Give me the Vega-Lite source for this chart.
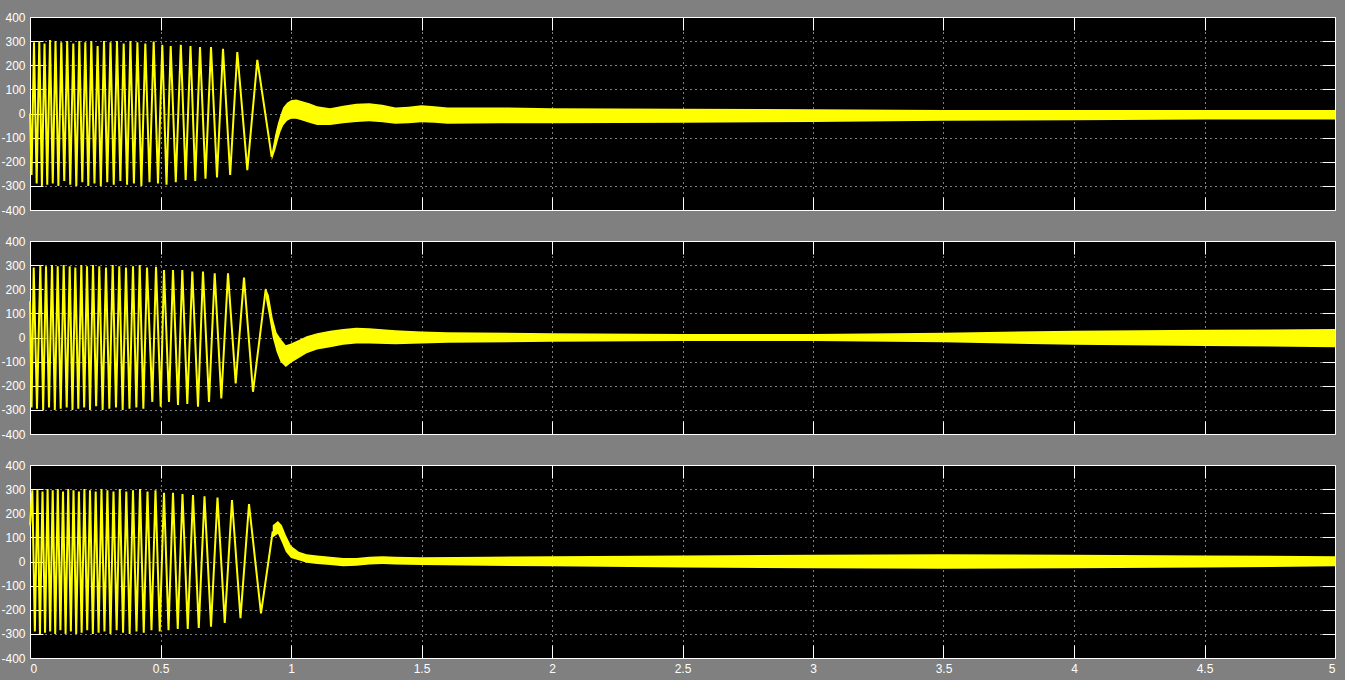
{
  "$schema": "https://vega.github.io/schema/vega-lite/v6.json",
  "autosize": {"type": "pad"},
  "padding": {"left": 0, "top": 10, "right": 9, "bottom": 5},
  "background": "#808080",
  "config": {
    "view": {"fill": "black", "stroke": "white", "strokeWidth": 1},
    "axis": {
      "domain": false,
      "gridColor": "white",
      "gridDash": [1, 4],
      "gridOpacity": 1,
      "gridWidth": 1,
      "tickColor": "white",
      "tickWidth": 1,
      "tickSize": -13,
      "labelColor": "white",
      "labelFont": "Liberation Sans",
      "labelFontSize": 12,
      "labelPadding": 18,
      "labelExpr": "'' + datum.value",
      "title": null
    },
    "line": {"color": "#ffff00", "strokeWidth": 2},
    "area": {"color": "#ffff00", "opacity": 1}
  },
  "spacing": 31,
  "bounds": "flush",
  "datasets": {
    "p1line": [
      {"t":0,"v":0},{"t":0.006,"v":-255},{"t":0.0153,"v":295},{"t":0.0255,"v":-290},{"t":0.0356,"v":300},{"t":0.0456,"v":-300},{"t":0.0556,"v":290},{"t":0.0661,"v":-295},{"t":0.0766,"v":305},{"t":0.0872,"v":-290},{"t":0.0977,"v":300},{"t":0.1088,"v":-300},{"t":0.1199,"v":295},{"t":0.1312,"v":-280},{"t":0.1425,"v":300},{"t":0.1542,"v":-295},{"t":0.1659,"v":290},{"t":0.1774,"v":-300},{"t":0.1889,"v":300},{"t":0.2004,"v":-285},{"t":0.2119,"v":295},{"t":0.2234,"v":-300},{"t":0.2349,"v":300},{"t":0.247,"v":-290},{"t":0.259,"v":280},{"t":0.2713,"v":-300},{"t":0.2835,"v":300},{"t":0.296,"v":-285},{"t":0.3084,"v":295},{"t":0.3209,"v":-295},{"t":0.3333,"v":300},{"t":0.3462,"v":-280},{"t":0.359,"v":290},{"t":0.3719,"v":-295},{"t":0.3847,"v":300},{"t":0.3981,"v":-290},{"t":0.4115,"v":295},{"t":0.4267,"v":-300},{"t":0.4418,"v":290},{"t":0.4579,"v":-285},{"t":0.4739,"v":298},{"t":0.4904,"v":-290},{"t":0.5069,"v":285},{"t":0.523,"v":-295},{"t":0.5391,"v":280},{"t":0.5585,"v":-285},{"t":0.5778,"v":285},{"t":0.5964,"v":-275},{"t":0.6149,"v":280},{"t":0.6331,"v":-280},{"t":0.6513,"v":275},{"t":0.6724,"v":-270},{"t":0.6935,"v":275},{"t":0.7165,"v":-265},{"t":0.7395,"v":268},{"t":0.7669,"v":-255},{"t":0.7943,"v":255},{"t":0.8326,"v":-235},{"t":0.8709,"v":222},{"t":0.926,"v":-180}
    ],
    "p1band": [
      {"t":0.926,"lo":-195,"hi":-165},{"t":0.94,"lo":-150,"hi":-85},{"t":0.95,"lo":-110,"hi":-40},{"t":0.96,"lo":-75,"hi":-5},{"t":0.97,"lo":-50,"hi":25},{"t":0.985,"lo":-30,"hi":45},{"t":1.0,"lo":-22,"hi":55},{"t":1.02,"lo":-22,"hi":58},{"t":1.04,"lo":-28,"hi":52},{"t":1.07,"lo":-38,"hi":42},{"t":1.1,"lo":-48,"hi":30},{"t":1.15,"lo":-48,"hi":22},{"t":1.2,"lo":-40,"hi":32},{"t":1.25,"lo":-35,"hi":40},{"t":1.3,"lo":-32,"hi":42},{"t":1.35,"lo":-36,"hi":36},{"t":1.4,"lo":-42,"hi":25},{"t":1.45,"lo":-40,"hi":28},{"t":1.5,"lo":-36,"hi":34},{"t":1.55,"lo":-38,"hi":30},{"t":1.6,"lo":-42,"hi":25},{"t":1.8,"lo":-40,"hi":25},{"t":2.0,"lo":-40,"hi":22},{"t":2.5,"lo":-38,"hi":20},{"t":3.0,"lo":-35,"hi":18},{"t":3.5,"lo":-30,"hi":15},{"t":4.0,"lo":-28,"hi":15},{"t":4.5,"lo":-25,"hi":15},{"t":5.0,"lo":-25,"hi":15}
    ],
    "p2line": [
      {"t":0,"v":150},{"t":0.006,"v":-290},{"t":0.0142,"v":290},{"t":0.0268,"v":-295},{"t":0.0395,"v":300},{"t":0.0504,"v":-300},{"t":0.0613,"v":295},{"t":0.0728,"v":-290},{"t":0.0843,"v":300},{"t":0.0952,"v":-300},{"t":0.1061,"v":295},{"t":0.1176,"v":-295},{"t":0.1291,"v":300},{"t":0.1406,"v":-290},{"t":0.1521,"v":295},{"t":0.1628,"v":-300},{"t":0.1736,"v":290},{"t":0.1851,"v":-295},{"t":0.1966,"v":300},{"t":0.2075,"v":-290},{"t":0.2184,"v":295},{"t":0.2299,"v":-300},{"t":0.2414,"v":300},{"t":0.2534,"v":-285},{"t":0.2655,"v":295},{"t":0.2783,"v":-300},{"t":0.2912,"v":290},{"t":0.304,"v":-295},{"t":0.3169,"v":300},{"t":0.3295,"v":-290},{"t":0.3421,"v":295},{"t":0.355,"v":-300},{"t":0.3678,"v":290},{"t":0.3812,"v":-295},{"t":0.3946,"v":295},{"t":0.4075,"v":-290},{"t":0.4203,"v":300},{"t":0.4343,"v":-295},{"t":0.4483,"v":290},{"t":0.4686,"v":-267},{"t":0.4828,"v":293},{"t":0.5008,"v":-287},{"t":0.5134,"v":280},{"t":0.5326,"v":-267},{"t":0.5479,"v":280},{"t":0.567,"v":-280},{"t":0.5835,"v":280},{"t":0.6027,"v":-275},{"t":0.6218,"v":273},{"t":0.6437,"v":-287},{"t":0.6628,"v":273},{"t":0.6858,"v":-267},{"t":0.7077,"v":266},{"t":0.733,"v":-253},{"t":0.7586,"v":266},{"t":0.7881,"v":-190},{"t":0.8199,"v":248},{"t":0.8544,"v":-225},{"t":0.9031,"v":200}
    ],
    "p2band": [
      {"t":0.9031,"lo":165,"hi":205},{"t":0.915,"lo":95,"hi":175},{"t":0.93,"lo":0,"hi":80},{"t":0.945,"lo":-60,"hi":20},{"t":0.96,"lo":-100,"hi":-5},{"t":0.98,"lo":-122,"hi":-32},{"t":1.0,"lo":-105,"hi":-25},{"t":1.03,"lo":-85,"hi":-10},{"t":1.06,"lo":-65,"hi":5},{"t":1.1,"lo":-50,"hi":18},{"t":1.15,"lo":-40,"hi":28},{"t":1.2,"lo":-30,"hi":35},{"t":1.25,"lo":-25,"hi":40},{"t":1.3,"lo":-25,"hi":38},{"t":1.4,"lo":-28,"hi":30},{"t":1.5,"lo":-25,"hi":25},{"t":1.6,"lo":-22,"hi":22},{"t":2.0,"lo":-18,"hi":18},{"t":2.5,"lo":-15,"hi":15},{"t":3.0,"lo":-15,"hi":15},{"t":3.5,"lo":-20,"hi":20},{"t":4.0,"lo":-30,"hi":28},{"t":4.5,"lo":-35,"hi":32},{"t":5.0,"lo":-40,"hi":35}
    ],
    "p3line": [
      {"t":0,"v":150},{"t":0.0088,"v":295},{"t":0.0186,"v":-290},{"t":0.0284,"v":300},{"t":0.0381,"v":-300},{"t":0.0479,"v":290},{"t":0.0577,"v":-295},{"t":0.0674,"v":300},{"t":0.0772,"v":-290},{"t":0.087,"v":295},{"t":0.0967,"v":-300},{"t":0.1065,"v":300},{"t":0.1165,"v":-285},{"t":0.1264,"v":290},{"t":0.1364,"v":-300},{"t":0.1464,"v":300},{"t":0.1565,"v":-290},{"t":0.1667,"v":295},{"t":0.177,"v":-300},{"t":0.1874,"v":290},{"t":0.1979,"v":-295},{"t":0.2084,"v":300},{"t":0.2192,"v":-285},{"t":0.2299,"v":295},{"t":0.2408,"v":-300},{"t":0.2517,"v":290},{"t":0.2628,"v":-295},{"t":0.2739,"v":300},{"t":0.2853,"v":-290},{"t":0.2966,"v":295},{"t":0.3083,"v":-300},{"t":0.3199,"v":290},{"t":0.332,"v":-285},{"t":0.3441,"v":300},{"t":0.3566,"v":-295},{"t":0.369,"v":290},{"t":0.3818,"v":-300},{"t":0.3946,"v":295},{"t":0.408,"v":-290},{"t":0.4215,"v":300},{"t":0.4358,"v":-295},{"t":0.4502,"v":290},{"t":0.4655,"v":-285},{"t":0.4808,"v":295},{"t":0.4971,"v":-290},{"t":0.5134,"v":285},{"t":0.5307,"v":-285},{"t":0.5479,"v":285},{"t":0.5661,"v":-280},{"t":0.5843,"v":280},{"t":0.6044,"v":-280},{"t":0.6245,"v":275},{"t":0.6466,"v":-275},{"t":0.6686,"v":270},{"t":0.6935,"v":-270},{"t":0.7184,"v":265},{"t":0.7462,"v":-255},{"t":0.7739,"v":255},{"t":0.8065,"v":-235},{"t":0.8391,"v":238},{"t":0.885,"v":-215},{"t":0.93,"v":125}
    ],
    "p3band": [
      {"t":0.93,"lo":100,"hi":150},{"t":0.95,"lo":115,"hi":168},{"t":0.965,"lo":80,"hi":150},{"t":0.98,"lo":40,"hi":110},{"t":1.0,"lo":15,"hi":65},{"t":1.03,"lo":5,"hi":40},{"t":1.06,"lo":-5,"hi":30},{"t":1.1,"lo":-10,"hi":25},{"t":1.15,"lo":-15,"hi":20},{"t":1.2,"lo":-20,"hi":15},{"t":1.25,"lo":-18,"hi":15},{"t":1.3,"lo":-12,"hi":20},{"t":1.35,"lo":-10,"hi":22},{"t":1.4,"lo":-12,"hi":20},{"t":1.5,"lo":-15,"hi":18},{"t":1.75,"lo":-18,"hi":20},{"t":2.0,"lo":-20,"hi":22},{"t":2.5,"lo":-25,"hi":25},{"t":3.0,"lo":-28,"hi":28},{"t":3.5,"lo":-30,"hi":30},{"t":4.0,"lo":-28,"hi":28},{"t":4.5,"lo":-25,"hi":25},{"t":5.0,"lo":-20,"hi":22}
    ]
  },
  "vconcat": [
    {
      "width": 1305, "height": 193,
      "resolve": {"axis": {"x": "independent", "y": "independent"}},
      "layer": [
        {"data": {"name": "p1band"}, "mark": "area",
         "encoding": {
           "x": {"field": "t", "type": "quantitative", "scale": {"domain": [0, 5], "nice": false, "zero": false}, "axis": {"orient": "bottom", "values": [0,0.5,1,1.5,2,2.5,3,3.5,4,4.5,5], "labels": false}},
           "y": {"field": "lo", "type": "quantitative", "scale": {"domain": [-400, 400], "nice": false}, "axis": {"orient": "left", "values": [-400,-300,-200,-100,0,100,200,300,400]}},
           "y2": {"field": "hi"}}},
        {"data": {"name": "p1line"}, "mark": "line",
         "encoding": {
           "x": {"field": "t", "type": "quantitative", "axis": {"orient": "top", "values": [0,0.5,1,1.5,2,2.5,3,3.5,4,4.5,5], "labels": false, "grid": false}},
           "y": {"field": "v", "type": "quantitative", "axis": {"orient": "right", "values": [-400,-300,-200,-100,0,100,200,300,400], "labels": false, "grid": false}}}}
      ]
    },
    {
      "width": 1305, "height": 193,
      "resolve": {"axis": {"x": "independent", "y": "independent"}},
      "layer": [
        {"data": {"name": "p2band"}, "mark": "area",
         "encoding": {
           "x": {"field": "t", "type": "quantitative", "scale": {"domain": [0, 5], "nice": false, "zero": false}, "axis": {"orient": "bottom", "values": [0,0.5,1,1.5,2,2.5,3,3.5,4,4.5,5], "labels": false}},
           "y": {"field": "lo", "type": "quantitative", "scale": {"domain": [-400, 400], "nice": false}, "axis": {"orient": "left", "values": [-400,-300,-200,-100,0,100,200,300,400]}},
           "y2": {"field": "hi"}}},
        {"data": {"name": "p2line"}, "mark": "line",
         "encoding": {
           "x": {"field": "t", "type": "quantitative", "axis": {"orient": "top", "values": [0,0.5,1,1.5,2,2.5,3,3.5,4,4.5,5], "labels": false, "grid": false}},
           "y": {"field": "v", "type": "quantitative", "axis": {"orient": "right", "values": [-400,-300,-200,-100,0,100,200,300,400], "labels": false, "grid": false}}}}
      ]
    },
    {
      "width": 1305, "height": 193,
      "resolve": {"axis": {"x": "independent", "y": "independent"}},
      "layer": [
        {"data": {"name": "p3band"}, "mark": "area",
         "encoding": {
           "x": {"field": "t", "type": "quantitative", "scale": {"domain": [0, 5], "nice": false, "zero": false}, "axis": {"orient": "bottom", "values": [0,0.5,1,1.5,2,2.5,3,3.5,4,4.5,5]}},
           "y": {"field": "lo", "type": "quantitative", "scale": {"domain": [-400, 400], "nice": false}, "axis": {"orient": "left", "values": [-400,-300,-200,-100,0,100,200,300,400]}},
           "y2": {"field": "hi"}}},
        {"data": {"name": "p3line"}, "mark": "line",
         "encoding": {
           "x": {"field": "t", "type": "quantitative", "axis": {"orient": "top", "values": [0,0.5,1,1.5,2,2.5,3,3.5,4,4.5,5], "labels": false, "grid": false}},
           "y": {"field": "v", "type": "quantitative", "axis": {"orient": "right", "values": [-400,-300,-200,-100,0,100,200,300,400], "labels": false, "grid": false}}}}
      ]
    }
  ]
}
